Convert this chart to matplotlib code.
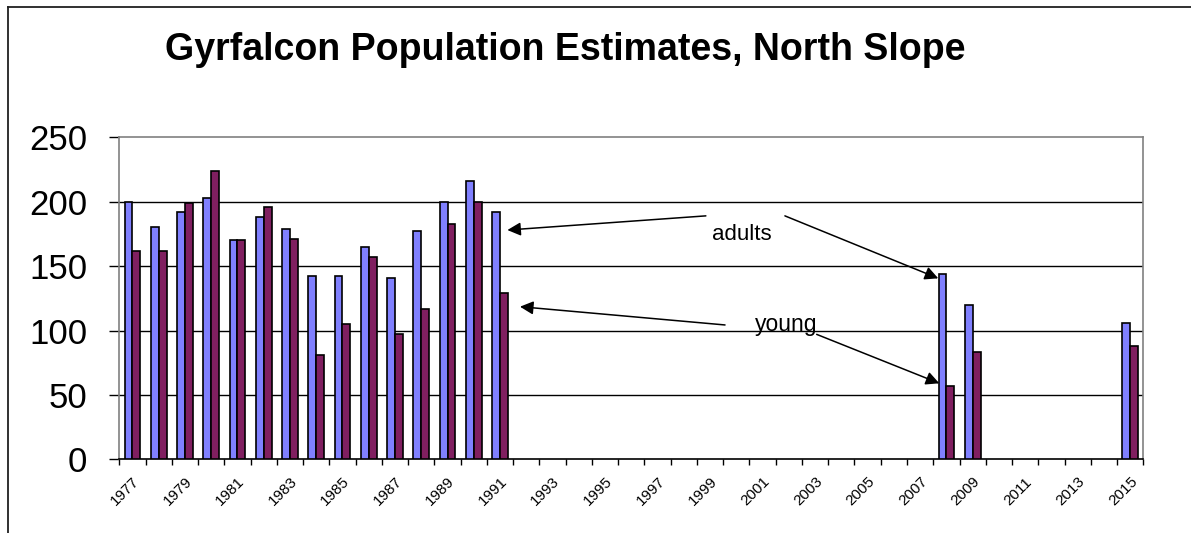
import numpy as np
import matplotlib
matplotlib.use('Agg')
import matplotlib.pyplot as plt
from matplotlib.ticker import MultipleLocator, FixedLocator

plt.rcParams['font.family'] = ['Liberation Sans', 'DejaVu Sans']

# data
categories = list(range(1977, 2016))
survey_years = [1977, 1978, 1979, 1980, 1981, 1982, 1983, 1984, 1985, 1986,
                1987, 1988, 1989, 1990, 1991, 2008, 2009, 2015]
adults = [200, 180, 192, 203, 170, 188, 179, 142, 142, 165,
          141, 177, 200, 216, 192, 144, 120, 106]
young = [162, 162, 199, 224, 170, 196, 171, 81, 105, 157,
         97, 117, 183, 200, 129, 57, 83, 88]
tick_labels = [str(y) if (y - 1977) % 2 == 0 else '' for y in categories]

blue = '#8080FF'
purple = '#801F60'

fig = plt.figure(figsize=(11.91, 5.33), dpi=100)
ax = fig.add_axes([119.3/1191, 1-459.3/533, 1024/1191, 322/533])

xpos = np.array([categories.index(y) for y in survey_years])
w = 0.3
ax.bar(xpos - w/2, adults, width=w, color=blue, edgecolor='black', linewidth=1.2, zorder=3)
ax.bar(xpos + w/2, young, width=w, color=purple, edgecolor='black', linewidth=1.2, zorder=3)

ax.set_xlim(-0.5, len(categories) - 0.5)
ax.set_ylim(0, 250)
ax.yaxis.set_major_locator(MultipleLocator(50))
ax.tick_params(axis='y', labelsize=25, length=7, width=1, pad=16, direction='out')

ax.set_xticks(range(len(categories)))
ax.set_xticklabels(tick_labels, rotation=45, ha='right', va='top',
                   rotation_mode='anchor', fontsize=11)
ax.xaxis.set_minor_locator(FixedLocator(np.arange(-0.5, len(categories), 1)))
ax.tick_params(axis='x', which='major', length=0, pad=11)
ax.tick_params(axis='x', which='minor', length=4, width=1)

ax.yaxis.grid(True, color='black', linewidth=1, zorder=1)
ax.set_axisbelow(True)
for gl, v in zip(ax.get_ygridlines(), ax.get_yticks()):
    if v >= 250 or v <= 0:
        gl.set_visible(False)

for s in ['left', 'top', 'right']:
    ax.spines[s].set_color('#808080')
    ax.spines[s].set_linewidth(1.2)
ax.spines['bottom'].set_color('black')
ax.spines['bottom'].set_linewidth(1.2)

# annotations
arrow = dict(arrowstyle='-|>', color='black', lw=1.1, mutation_scale=20,
             shrinkA=0, shrinkB=0)
ax.annotate('', xy=(14.28, 178), xytext=(21.84, 189), arrowprops=arrow)
ax.annotate('', xy=(30.69, 140.5), xytext=(24.85, 189), arrowprops=arrow)
ax.annotate('', xy=(14.76, 118.5), xytext=(22.57, 104.3), arrowprops=arrow)
ax.annotate('', xy=(30.73, 59), xytext=(26.06, 97), arrowprops=arrow)
ax.text(22.06, 170.3, 'adults', fontsize=16, ha='left', va='baseline')
ax.text(23.71, 99.6, 'young', fontsize=16.5, ha='left', va='baseline')

fig.text(165/1191, 1-60/533, 'Gyrfalcon Population Estimates, North Slope',
         fontsize=27, fontweight='bold', ha='left', va='baseline')

# frame lines of the slide
fig.add_artist(plt.Line2D([8/1191, 8/1191], [0, 1-7/533], color='#202020', lw=1.3))
fig.add_artist(plt.Line2D([8/1191, 1], [1-7/533, 1-7/533], color='#202020', lw=1.3))

fig.savefig('out.png', dpi=100)
